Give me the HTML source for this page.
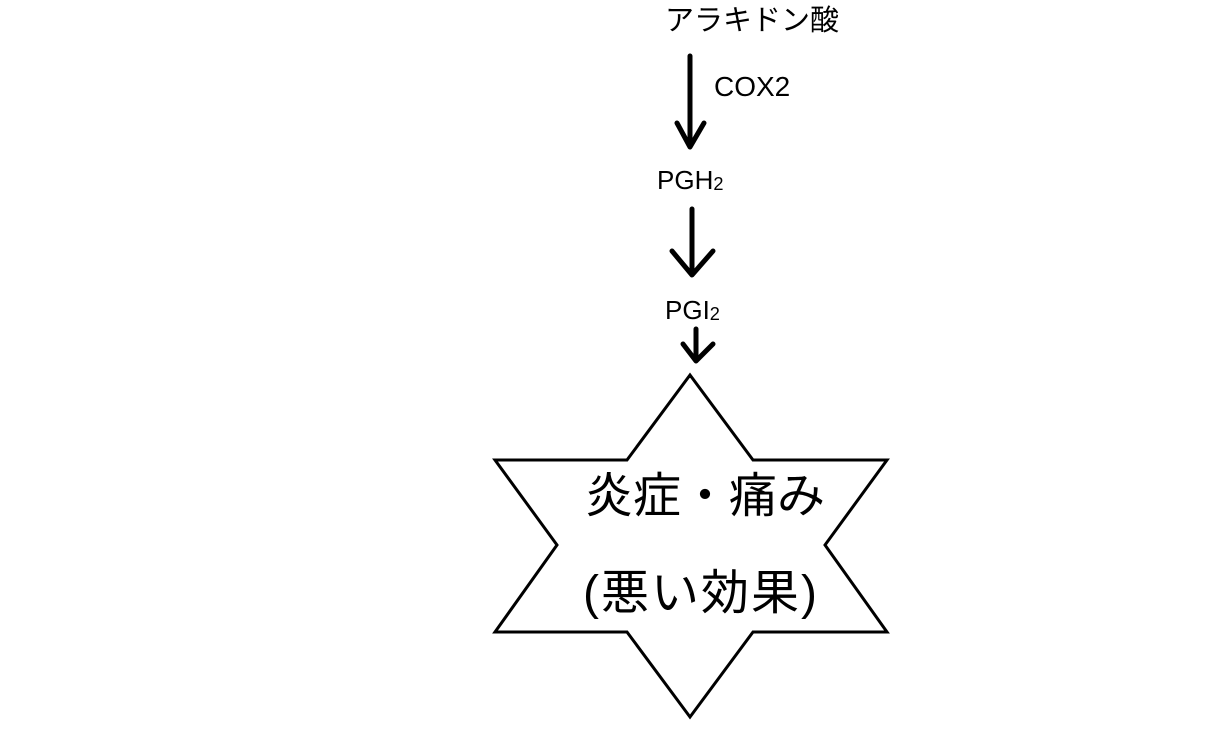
<!DOCTYPE html>
<html><head><meta charset="utf-8"><style>
html,body{margin:0;padding:0;background:#fff;}
body{width:1219px;height:733px;position:relative;overflow:hidden;font-family:"Liberation Sans","Noto Sans CJK JP",sans-serif;color:#000;}
.t{position:absolute;white-space:nowrap;line-height:1;}
sub{font-size:0.7em;vertical-align:baseline;position:relative;top:0.05em;}
</style></head><body>
<svg width="1219" height="733" style="position:absolute;left:0;top:0">
<g stroke="#000" stroke-width="5" fill="none" stroke-linecap="round" stroke-linejoin="round">
<line x1="690" y1="56" x2="690" y2="146"/>
<polyline points="677,123 690,147 704,123"/>
<line x1="692" y1="209" x2="692" y2="274"/>
<polyline points="672,251 692,275 713,251"/>
<line x1="696" y1="329" x2="696" y2="360"/>
<polyline points="683,344 696,361 713,344"/>
</g>
<polygon points="690,375 753,460 887,460 825,545 887,632 753,632 690,717 627,632 495,632 557,545 495,460 627,460" fill="#fff" stroke="#000" stroke-width="3" stroke-linejoin="miter"/>
</svg>
<div class="t" style="left:665px;top:7px;font-size:29px;">アラキドン酸</div>
<div class="t" style="left:714px;top:73px;font-size:28px;">COX2</div>
<div class="t" style="left:657px;top:167px;font-size:26px;">PGH<sub>2</sub></div>
<div class="t" style="left:665px;top:297px;font-size:26px;">PGI<sub>2</sub></div>
<div class="t" style="left:585px;top:473px;font-size:48px;">炎症・痛み</div>
<div class="t" style="left:583px;top:570px;font-size:48px;letter-spacing:2px;">(悪い効果)</div>
</body></html>
